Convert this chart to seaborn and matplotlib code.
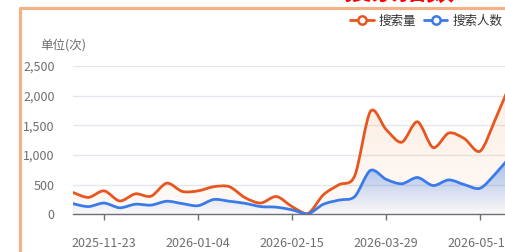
import numpy as np
import pandas as pd
import matplotlib
matplotlib.use("Agg")
import matplotlib.pyplot as plt
import seaborn as sns
from matplotlib.path import Path
from matplotlib.patches import PathPatch
from matplotlib.lines import Line2D
from matplotlib.ticker import FuncFormatter

# weekly data (the last week runs past the crop)
weeks = pd.date_range("2025-11-09", periods=29, freq="7D")
search_volume = [370, 285, 395, 225, 345, 305, 525, 385, 395, 465, 465, 280, 190, 300,
                 130, 10, 330, 500, 650, 1735, 1430, 1215, 1560, 1125, 1370, 1275, 1065,
                 1620, 2250]
search_users = [180, 130, 190, 110, 170, 155, 220, 180, 145, 250, 220, 185, 130, 120,
                75, 5, 170, 240, 300, 740, 590, 515, 620, 485, 580, 500, 440,
                690, 1000]
series_names = ["搜索量", "搜索人数"]
tick_weeks = ["2025-11-23", "2026-01-04", "2026-02-15", "2026-03-29", "2026-05-10"]
y_ticks = [0, 500, 1000, 1500, 2000, 2500]

orange = "#e8561f"
blue = "#3b7be9"

sns.set_theme(style="white")
plt.rcParams["font.family"] = ["Noto Sans CJK SC", "DejaVu Sans"]


def smooth_path(x, y, close=False):
    # Catmull-Rom style bezier through the data points
    x = np.asarray(x, float)
    y = np.asarray(y, float)
    verts = [(x[0], y[0])]
    codes = [Path.MOVETO]
    n = len(x)
    s = 0.9
    for i in range(n - 1):
        p0 = i - 1 if i > 0 else i
        p3 = i + 2 if i + 2 < n else i + 1
        c1 = (x[i] + (x[i + 1] - x[p0]) / 6 * s, y[i] + (y[i + 1] - y[p0]) / 6 * s)
        c2 = (x[i + 1] - (x[p3] - x[i]) / 6 * s, y[i + 1] - (y[p3] - y[i]) / 6 * s)
        c1 = (c1[0], max(c1[1], 0))
        c2 = (c2[0], max(c2[1], 0))
        verts += [c1, c2, (x[i + 1], y[i + 1])]
        codes += [Path.CURVE4] * 3
    if close:
        verts += [(x[-1], 0), (x[0], 0), (x[0], y[0])]
        codes += [Path.LINETO, Path.LINETO, Path.CLOSEPOLY]
    return Path(verts, codes)


def gradient_fill(ax, path, color, top, a_top, a_bottom, xmax):
    patch = PathPatch(path, facecolor="none", edgecolor="none")
    ax.add_patch(patch)
    rgb = matplotlib.colors.to_rgb(color)
    grad = np.zeros((100, 1, 4))
    grad[:, 0, :3] = rgb
    grad[:, 0, 3] = np.linspace(a_top, a_bottom, 100)
    im = ax.imshow(grad, extent=[0, xmax, 0, top], aspect="auto", origin="upper",
                   zorder=1, interpolation="bilinear")
    im.set_clip_path(patch)


W, H = 506, 252
fig = plt.figure(figsize=(W / 100, H / 100), dpi=100)
fig.patch.set_facecolor("white")

x0, y_base, y_top = 72.7, 214.3, 66.0
step = 15.67
ax = fig.add_axes([x0 / W, (H - y_base) / H, (W - x0) / W, (y_base - y_top) / H])
ax.set_facecolor("none")

xs = np.arange(len(weeks))
xmax = (W - x0) / step

gradient_fill(ax, smooth_path(xs, search_volume, True), "#f5a468", 2500, 0.22, 0.05, xs[-1] + 1)
gradient_fill(ax, smooth_path(xs, search_users, True), blue, 1000, 0.5, 0.02, xs[-1] + 1)

ax.add_patch(PathPatch(smooth_path(xs, search_volume), facecolor="none", edgecolor=orange,
                       lw=2, zorder=3, capstyle="round", joinstyle="round"))
ax.add_patch(PathPatch(smooth_path(xs, search_users), facecolor="none", edgecolor=blue,
                       lw=2, zorder=3, capstyle="round", joinstyle="round"))

ax.set_xlim(0, xmax)
ax.set_ylim(0, 2500)
ax.set_yticks(y_ticks)
ax.yaxis.set_major_formatter(FuncFormatter(lambda v, p: f"{int(v):,}"))
tick_pos = [list(weeks.strftime("%Y-%m-%d")).index(t) for t in tick_weeks]
ax.set_xticks(tick_pos)
ax.set_xticklabels(tick_weeks)

for sp in ["top", "right", "left"]:
    ax.spines[sp].set_visible(False)
ax.spines["bottom"].set_color("#6e7079")
ax.spines["bottom"].set_linewidth(1)
ax.tick_params(axis="x", length=4, width=1, color="#6e7079", direction="out",
               labelsize=9, labelcolor="#6e6e6e", pad=12, bottom=True)
ax.tick_params(axis="y", length=0, labelsize=9, labelcolor="#6e6e6e", pad=13)
ax.grid(axis="y", color="#e3e6ec", lw=1)
ax.set_axisbelow(True)

fig.text(40 / W, 1 - 45 / H, "单位(次)", fontsize=9, color="#6e6e6e", va="center", ha="left")

# orange frame of the card
fig.add_artist(Line2D([20 / W, 20 / W], [0, 1 - 8 / H], color="#f4b185", lw=2.2))
fig.add_artist(Line2D([20 / W, 1], [1 - 8 / H, 1 - 8 / H], color="#f4b185", lw=2.2))

# red title, mostly cut off by the crop
fig.text(343 / W, 1 - 0.0 / H, "搜索指数", fontsize=20, color="#ff0000",
         fontweight="bold", va="baseline", ha="left")

handles = [Line2D([], [], color=orange, lw=2, marker="o", markersize=6,
                  markerfacecolor="white", markeredgewidth=1.8),
           Line2D([], [], color=blue, lw=2, marker="o", markersize=6,
                  markerfacecolor="white", markeredgewidth=1.8)]
fig.legend(handles, series_names, loc="center left", bbox_to_anchor=(350 / W, 1 - 21 / H),
           ncol=2, frameon=False, fontsize=9, handlelength=1.9, handletextpad=0.4,
           columnspacing=0.6, labelcolor="#333333", borderaxespad=0, borderpad=0)

fig.savefig("out.png", dpi=100)
